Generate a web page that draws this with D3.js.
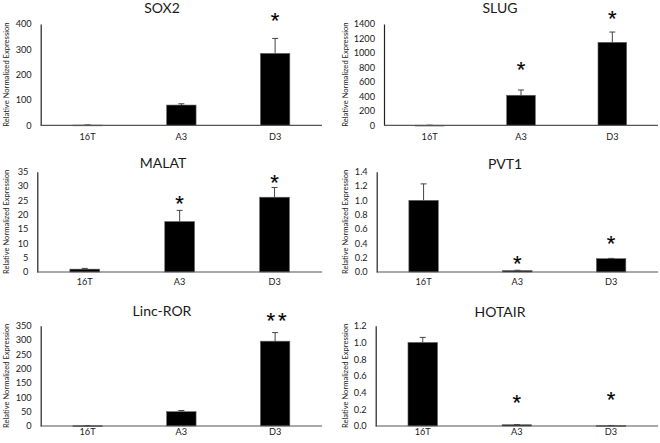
<!DOCTYPE html>
<html>
<head>
<meta charset="utf-8">
<script src="https://cdn.jsdelivr.net/npm/d3@7"></script>
<style>
  html, body { margin: 0; padding: 0; background: #fff; }
  svg { display: block; }
  text { font-family: Lato, "Open Sans", "Liberation Sans", sans-serif; fill: #1a1a1a; }
  text.sig { font-family: "Liberation Sans", Arial, sans-serif; -webkit-font-smoothing: antialiased; }
</style>
</head>
<body>
<svg id="chart" width="660" height="443"></svg>
<script>
// ---------- DATA ----------
const categories = ["16T", "A3", "D3"];
const geneNames = ["SOX2", "SLUG", "MALAT", "PVT1", "Linc-ROR", "HOTAIR"];

const sox2Values = [1, 80, 284];
const sox2Errors = [0.5, 5, 59];
const sox2Ticks = [0, 100, 200, 300, 400];
const sox2Sig = ["", "", "*"];
const sox2SigY = [null, null, 435];

const slugValues = [1, 415, 1147];
const slugErrors = [0.5, 73, 142];
const slugTicks = [0, 200, 400, 600, 800, 1000, 1200, 1400];
const slugSig = ["", "*", "*"];
const slugSigY = [null, 847, 1552];

const malatValues = [1.0, 17.6, 26.1];
const malatErrors = [0.25, 3.9, 3.4];
const malatTicks = [0, 5, 10, 15, 20, 25, 30, 35];
const malatSig = ["", "*", "*"];
const malatSigY = [null, 25.8, 33.1];

const pvt1Values = [1.0, 0.02, 0.186];
const pvt1Errors = [0.23, 0.004, 0.004];
const pvt1Ticks = [0, 0.2, 0.4, 0.6, 0.8, 1.0, 1.2, 1.4];
const pvt1Sig = ["", "*", "*"];
const pvt1SigY = [null, 0.195, 0.475];

const lincValues = [1, 50, 296];
const lincErrors = [0.5, 4, 30];
const lincTicks = [0, 50, 100, 150, 200, 250, 300, 350];
const lincSig = ["", "", "**"];
const lincSigY = [null, null, 385];

const hotairValues = [1.0, 0.015, 0.005];
const hotairErrors = [0.06, 0.002, 0.001];
const hotairTicks = [0, 0.2, 0.4, 0.6, 0.8, 1.0, 1.2];
const hotairSig = ["", "*", "*"];
const hotairSigY = [null, 0.34, 0.383];

const yAxisLabel = "Relative Normalized Expression";

// ---------- LAYOUT ----------
const panels = [
  { name: geneNames[0], values: sox2Values, errors: sox2Errors, ticks: sox2Ticks, sig: sox2Sig, sigY: sox2SigY, fmt: d3.format("d"),
    x0: 40.7, x1: 322, axisEnd: 322, yTop: 24, yBot: 125.3, titleX: 162, titleY: 12.7, labelX: 6, xPad: 8.2 },
  { name: geneNames[1], values: slugValues, errors: slugErrors, ticks: slugTicks, sig: slugSig, sigY: slugSigY, fmt: d3.format("d"),
    x0: 384, x1: 658, axisEnd: 658, yTop: 24, yBot: 125.3, titleX: 500, titleY: 12.7, labelX: 345, xPad: 8.2 },
  { name: geneNames[2], values: malatValues, errors: malatErrors, ticks: malatTicks, sig: malatSig, sigY: malatSigY, fmt: d3.format("d"),
    x0: 37.3, x1: 322, axisEnd: 322, yTop: 171.7, yBot: 272, titleX: 163, titleY: 167.7, labelX: 6, xPad: 6.8 },
  { name: geneNames[3], values: pvt1Values, errors: pvt1Errors, ticks: pvt1Ticks, sig: pvt1Sig, sigY: pvt1SigY, fmt: d3.format(".1f"),
    x0: 376.7, x1: 658, axisEnd: 658, yTop: 171.7, yBot: 272, titleX: 505, titleY: 169.3, labelX: 345, xPad: 6.8 },
  { name: geneNames[4], values: lincValues, errors: lincErrors, ticks: lincTicks, sig: lincSig, sigY: lincSigY, fmt: d3.format("d"),
    x0: 40.7, x1: 322, axisEnd: 322, yTop: 325.7, yBot: 426, titleX: 162, titleY: 315.7, labelX: 6, xPad: 2.8 },
  { name: geneNames[5], values: hotairValues, errors: hotairErrors, ticks: hotairTicks, sig: hotairSig, sigY: hotairSigY, fmt: d3.format(".1f"),
    x0: 375.7, x1: 658, axisEnd: 658, yTop: 325.7, yBot: 426, titleX: 500, titleY: 316.7, labelX: 345, xPad: 2.8 }
];

const svg = d3.select("#chart");
svg.append("rect").attr("width", 660).attr("height", 443).attr("fill", "#fff");

const gap = 0.686; // Excel default gap width 219%

panels.forEach(p => {
  const g = svg.append("g");
  const yMax = p.ticks[p.ticks.length - 1];
  const x = d3.scaleBand().domain(categories).range([p.x0, p.x1]).paddingInner(gap).paddingOuter(gap / 2);
  const y = d3.scaleLinear().domain([0, yMax]).range([p.yBot, p.yTop]);

  const data = categories.map((c, i) => ({ c, v: p.values[i], e: p.errors[i], s: p.sig[i], sy: p.sigY[i] }));

  // title
  g.append("text").attr("x", p.titleX).attr("y", p.titleY)
    .attr("text-anchor", "middle").attr("font-size", 14).attr("fill", "#111").text(p.name);

  // y-axis label
  g.append("text")
    .attr("transform", `translate(${p.labelX + 2.5},${(p.yTop + p.yBot) / 2}) rotate(-90)`)
    .attr("text-anchor", "middle").attr("font-size", 7.6).attr("fill", "#222").text(yAxisLabel);

  // y axis
  const ya = g.append("g").attr("transform", `translate(${p.x0},0)`)
    .call(d3.axisLeft(y).tickValues(p.ticks).tickFormat(p.fmt).tickSize(0).tickPadding(9));
  ya.select(".domain").attr("stroke", "#222").attr("stroke-width", 1.2);
  ya.selectAll("text").attr("font-size", 9.2).attr("fill", "#222")
    .attr("font-family", "Lato, 'Open Sans', sans-serif");

  // bars
  g.selectAll("rect.bar").data(data).join("rect")
    .attr("class", "bar")
    .attr("x", d => x(d.c))
    .attr("width", x.bandwidth())
    .attr("y", d => y(d.v))
    .attr("height", d => Math.max(0.8, y(0) - y(d.v)))
    .attr("fill", "#000")
    .attr("stroke", "#666").attr("stroke-width", 0.6);

  // error bars (upper)
  const cap = 3;
  data.forEach(d => {
    const cx = x(d.c) + x.bandwidth() / 2;
    const top = y(d.v + d.e);
    g.append("line").attr("x1", cx).attr("x2", cx).attr("y1", y(d.v)).attr("y2", top)
      .attr("stroke", "#444").attr("stroke-width", 1);
    g.append("line").attr("x1", cx - cap).attr("x2", cx + cap).attr("y1", top).attr("y2", top)
      .attr("stroke", "#444").attr("stroke-width", 1);
  });

  // x axis
  const xa = g.append("g").attr("transform", `translate(0,${p.yBot})`)
    .call(d3.axisBottom(x).tickSize(0).tickPadding(p.xPad));
  xa.select(".domain").remove();
  g.append("line").attr("x1", p.x0).attr("x2", p.axisEnd).attr("y1", p.yBot).attr("y2", p.yBot)
    .attr("stroke", "#555").attr("stroke-width", 1.2);
  xa.selectAll("text").attr("font-size", 9.2).attr("fill", "#222")
    .attr("font-family", "Lato, 'Open Sans', sans-serif");

  // significance marks
  const fs = 22;
  g.selectAll("text.sig").data(data.filter(d => d.s)).join("text")
    .attr("class", "sig")
    .attr("x", d => x(d.c) + x.bandwidth() / 2 + (d.s.length > 1 ? 3 : 0))
    .attr("y", d => y(d.sy) + fs * 0.57)
    .attr("text-anchor", "middle")
    .attr("font-size", fs)
    .attr("letter-spacing", d => d.s.length > 1 ? 3 : 0)
    .attr("stroke", "#000").attr("stroke-width", 0.15)
    .style("fill", "#000")
    .text(d => d.s);
});
</script>
</body>
</html>
